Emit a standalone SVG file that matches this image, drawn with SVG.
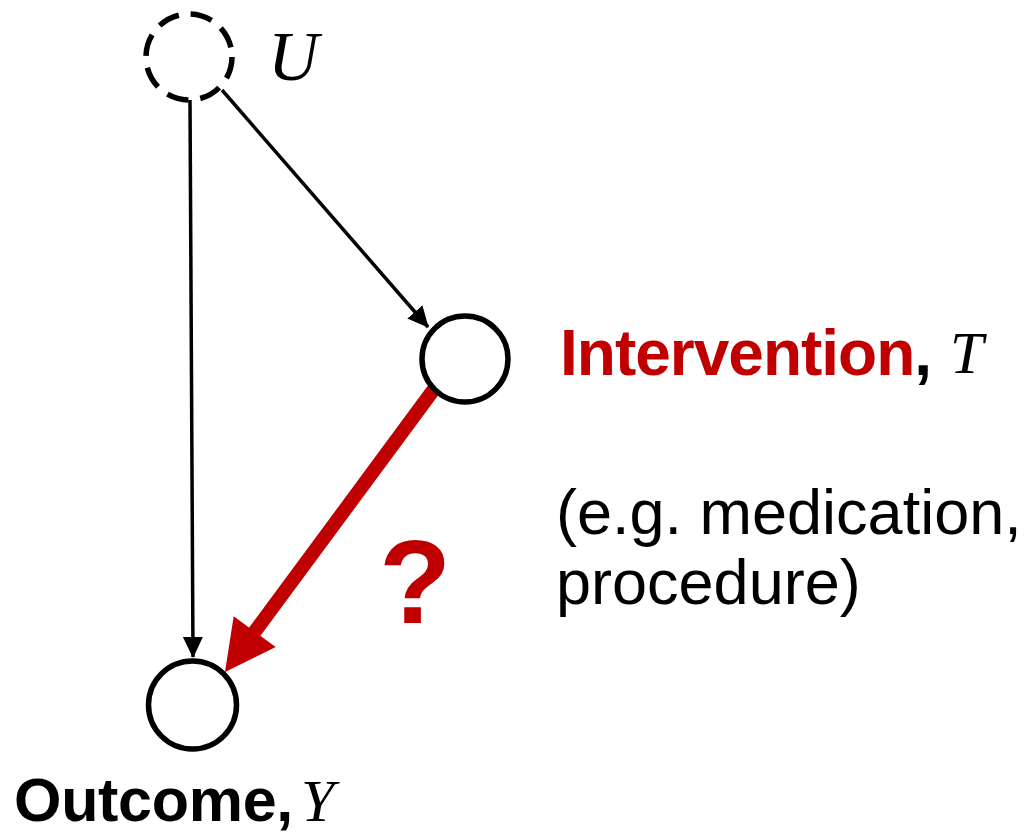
<svg xmlns="http://www.w3.org/2000/svg" width="1031" height="836" viewBox="0 0 1031 836">
  <style>
    .node { fill: #ffffff; stroke: #000000; stroke-width: 5.5; }
    .dashed { stroke-dasharray: 22 12; }
    .edge { stroke: #000000; stroke-width: 3.5; fill: none; }
    .sans { font-family: "Liberation Sans", Arial, sans-serif; }
    .bold { font-weight: bold; }
    .math { font-family: "Liberation Serif", "Times New Roman", serif; font-style: italic; }
    .red { fill: #C00000; }
  </style>
  <defs>
    <marker id="arrowBlack" markerUnits="userSpaceOnUse" markerWidth="24" markerHeight="24" refX="20" refY="10" orient="auto">
      <path d="M0,0 L21,10 L0,20 z" fill="#000000"/>
    </marker>
  </defs>
  <rect width="1031" height="836" fill="#ffffff"/>

  <g id="connectors">
    <line class="edge" x1="190" y1="100" x2="193" y2="657" marker-end="url(#arrowBlack)"/>
    <line class="edge" x1="222" y1="90" x2="428" y2="327" marker-end="url(#arrowBlack)"/>
    <g id="red-arrow">
      <line x1="440" y1="381" x2="245" y2="645" stroke="#C00000" stroke-width="14"/>
      <polygon points="225,672 233.7,616.3 275.7,647.1" fill="#C00000"/>
    </g>
  </g>

  <g id="node-U">
    <circle class="node dashed" cx="189" cy="57" r="43"/>
    <text class="math" x="268" y="80" font-size="70">U</text>
  </g>

  <g id="node-T">
    <circle class="node" cx="465" cy="359" r="43"/>
    <text x="560" y="375" font-size="64" class="sans bold" letter-spacing="-1"><tspan class="red">Intervention</tspan><tspan fill="#000000">,</tspan></text>
    <text class="math" x="950" y="373" font-size="60">T</text>
    <text class="sans" x="556" y="534" font-size="63">(e.g. medication,</text>
    <text class="sans" x="556" y="604" font-size="63">procedure)</text>
  </g>

  <g id="node-Y">
    <circle class="node" cx="192.5" cy="705" r="44"/>
    <text class="sans bold" x="14" y="821" font-size="61" letter-spacing="-0.3">Outcome,</text>
    <text class="math" x="301" y="821" font-size="60">Y</text>
  </g>

  <g id="label-question">
    <text class="sans bold red" x="379" y="623" font-size="118">?</text>
  </g>
</svg>
